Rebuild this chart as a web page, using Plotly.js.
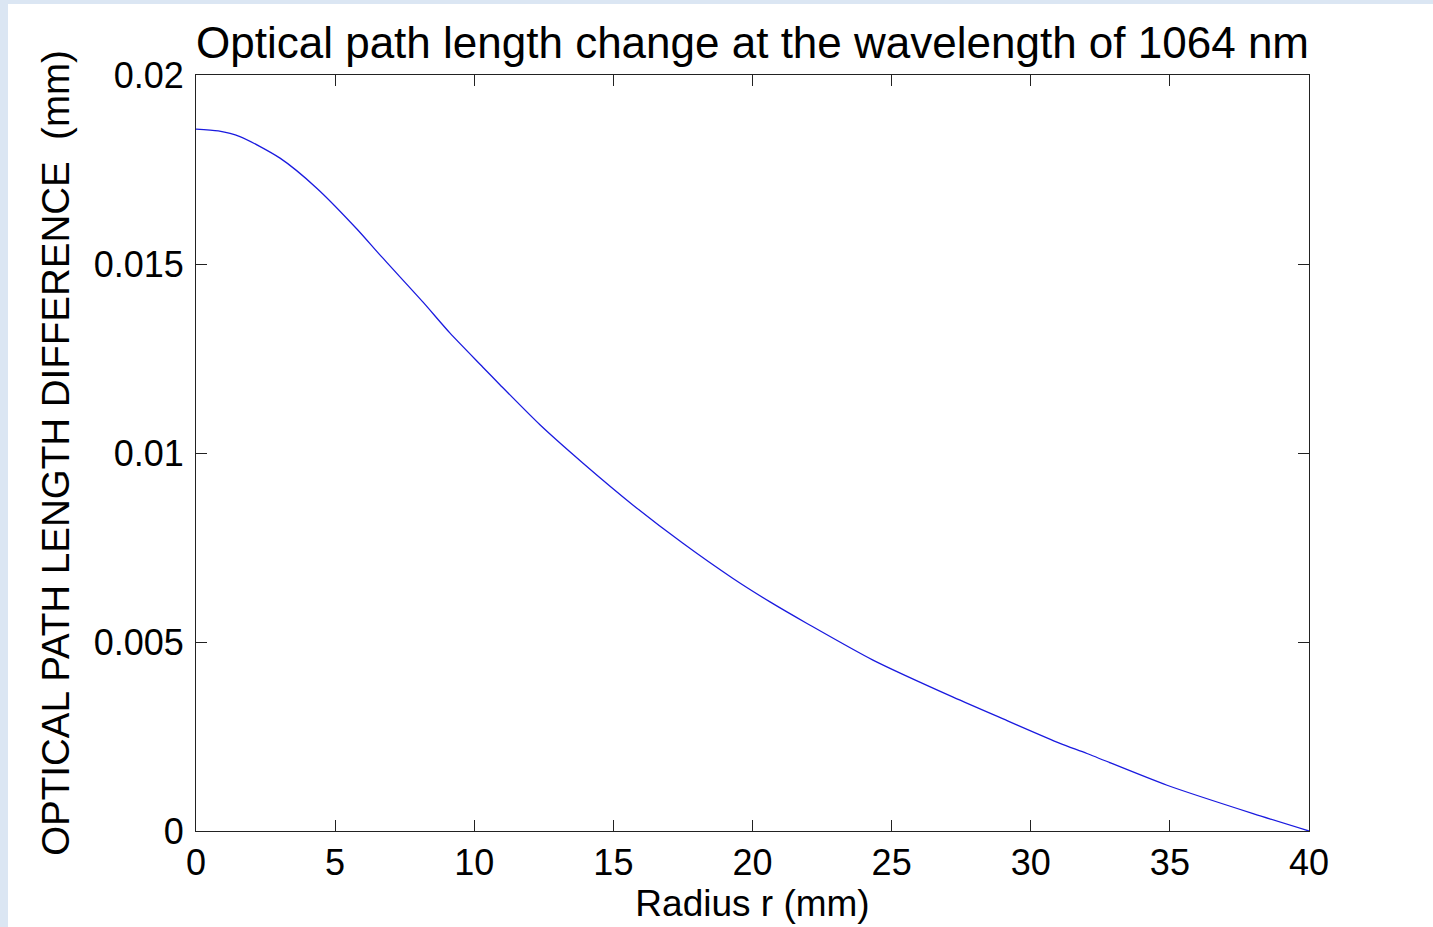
<!DOCTYPE html>
<html>
<head>
<meta charset="utf-8">
<script src="https://cdn.plot.ly/plotly-3.0.1.min.js"></script>
<style>
  html, body { margin: 0; padding: 0; width: 1433px; height: 927px; overflow: hidden; background: #dbe6f3; }
  #chart { position: absolute; left: 8px; top: 4px; width: 1425px; height: 923px; background: #ffffff; }
</style>
</head>
<body>
<div id="chart"></div>
<script>
// Radius r (mm)
const radius = [0, 0.8, 1.58, 3.02, 4.35, 5.79, 6.61, 8.16, 9.13, 10.31, 10.93, 12.37, 13.91, 15.71, 17.50, 19.30, 20.63, 21.96, 24.33, 27.21, 29.15, 31.05, 32.02, 34.90, 37.99, 40];
// Optical path length difference (mm)
const opd = [0.01857, 0.01852, 0.01837, 0.01780, 0.01700, 0.01592, 0.01524, 0.01399, 0.01317, 0.01227, 0.01180, 0.01074, 0.00973, 0.00862, 0.00761, 0.00668, 0.00606, 0.00549, 0.00452, 0.00354, 0.00292, 0.00232, 0.00205, 0.00121, 0.00046, 0];

const xTickVals = [0, 5, 10, 15, 20, 25, 30, 35, 40];
const xTickText = ["0", "5", "10", "15", "20", "25", "30", "35", "40"];
const yTickVals = [0, 0.005, 0.01, 0.015, 0.02];
const yTickText = ["0", "0.005", "0.01", "0.015", "0.02"];

const titleText = "Optical path length change at the wavelength of 1064 nm";
const xTitle = "Radius r (mm)";
const yTitle = "OPTICAL PATH LENGTH DIFFERENCE&nbsp;&nbsp;(mm)";

const font = "Liberation Sans, Arial, Helvetica, sans-serif";

const trace = {
  x: radius,
  y: opd,
  type: "scatter",
  mode: "lines",
  line: { color: "#1a1adf", width: 1.3, shape: "spline", smoothing: 0.7 },
  hoverinfo: "x+y"
};

const layout = {
  width: 1425,
  height: 923,
  paper_bgcolor: "#ffffff",
  plot_bgcolor: "#ffffff",
  showlegend: false,
  margin: { l: 188, r: 124, t: 71, b: 96, pad: 0 },
  title: {
    text: titleText,
    font: { family: font, size: 44, color: "#000000" },
    xref: "paper", x: 0.5, xanchor: "center",
    yref: "paper", y: 1, yanchor: "bottom",
    pad: { b: 17 }
  },
  xaxis: {
    range: [0, 40],
    tickvals: xTickVals,
    ticktext: xTickText,
    ticks: "inside",
    ticklen: 11,
    tickwidth: 1,
    tickcolor: "#222222",
    showline: true,
    linecolor: "#222222",
    linewidth: 1,
    mirror: "ticks",
    showgrid: false,
    zeroline: false,
    tickfont: { family: font, size: 36, color: "#000000" },
    ticklabelstandoff: 0,
    title: { text: xTitle, font: { family: font, size: 37, color: "#000000" }, standoff: 0 }
  },
  yaxis: {
    range: [0, 0.02],
    tickvals: yTickVals,
    ticktext: yTickText,
    ticks: "inside",
    ticklen: 11,
    tickwidth: 1,
    tickcolor: "#222222",
    showline: true,
    linecolor: "#222222",
    linewidth: 1,
    mirror: "ticks",
    showgrid: false,
    zeroline: false,
    tickfont: { family: font, size: 36, color: "#000000" },
    ticklabelstandoff: 4,
    title: { text: yTitle, font: { family: font, size: 38.5, color: "#000000" }, standoff: 12 }
  }
};

Plotly.newPlot("chart", [trace], layout, { displayModeBar: false });
</script>
</body>
</html>
